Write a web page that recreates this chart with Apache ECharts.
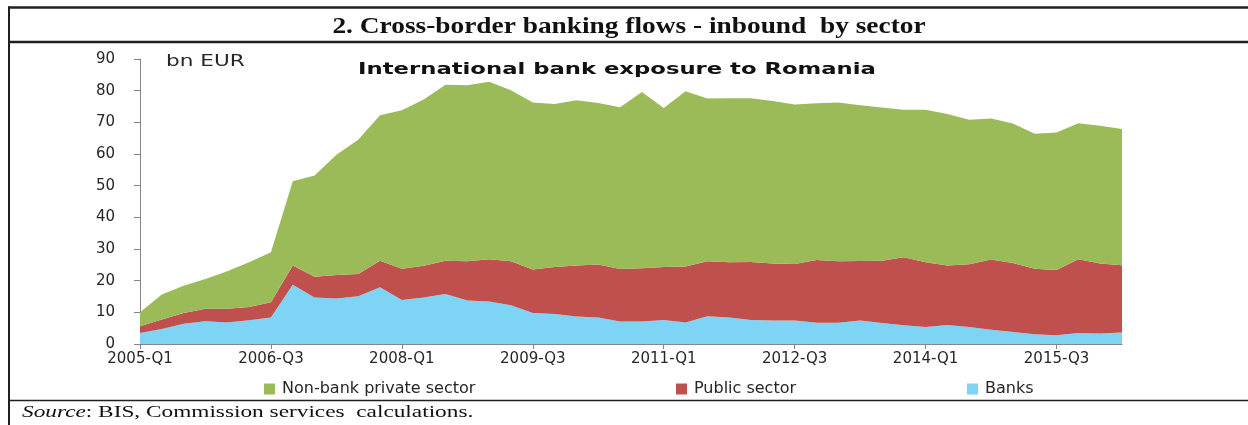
<!DOCTYPE html>
<html lang="en">
<head>
    <meta charset="UTF-8" />
    <title>Cross-border banking flows - inbound by sector</title>
    <script src="https://cdn.jsdelivr.net/npm/echarts@6/dist/echarts.min.js"></script>
    <style>
        html, body { margin: 0; padding: 0; background: #fff; }
        #chart { width: 1248px; height: 425px; }
    </style>
</head>
<body>
    <div id="chart"></div>
    <script>
        // quarters on the x axis
        var quarters = [
            "2005-Q1", "2005-Q2", "2005-Q3", "2005-Q4",
            "2006-Q1", "2006-Q2", "2006-Q3", "2006-Q4",
            "2007-Q1", "2007-Q2", "2007-Q3", "2007-Q4",
            "2008-Q1", "2008-Q2", "2008-Q3", "2008-Q4",
            "2009-Q1", "2009-Q2", "2009-Q3", "2009-Q4",
            "2010-Q1", "2010-Q2", "2010-Q3", "2010-Q4",
            "2011-Q1", "2011-Q2", "2011-Q3", "2011-Q4",
            "2012-Q1", "2012-Q2", "2012-Q3", "2012-Q4",
            "2013-Q1", "2013-Q2", "2013-Q3", "2013-Q4",
            "2014-Q1", "2014-Q2", "2014-Q3", "2014-Q4",
            "2015-Q1", "2015-Q2", "2015-Q3", "2015-Q4",
            "2016-Q1", "2016-Q2"
        ];

        // bn EUR (stacked: banks at the bottom)
        var banks = [
            3.5, 4.7, 6.4, 7.2, 6.8, 7.5, 8.4, 18.7, 14.7, 14.4, 15.1, 17.9,
            13.9, 14.7, 15.8, 13.7, 13.4, 12.2, 9.8, 9.5, 8.7, 8.4, 7.1, 7.1,
            7.6, 6.8, 8.8, 8.4, 7.6, 7.4, 7.4, 6.7, 6.7, 7.4, 6.6, 5.9,
            5.4, 6.0, 5.4, 4.5, 3.8, 3.1, 2.8, 3.5, 3.3, 3.6
        ];
        var publicSector = [
            2.1, 3.0, 3.4, 3.9, 4.3, 4.2, 4.8, 6.1, 6.5, 7.4, 7.0, 8.4,
            9.9, 10.0, 10.5, 12.4, 13.4, 13.9, 13.7, 14.8, 16.1, 16.7, 16.6, 16.8,
            16.7, 17.7, 17.3, 17.4, 18.3, 18.0, 17.9, 19.8, 19.4, 18.8, 19.7, 21.5,
            20.4, 18.8, 19.8, 22.2, 21.8, 20.7, 20.6, 23.3, 22.1, 21.3
        ];
        var nonBank = [
            4.4, 7.9, 8.6, 9.4, 11.9, 14.1, 15.8, 26.6, 32.0, 38.0, 42.4, 45.9,
            50.0, 52.5, 55.6, 55.6, 56.0, 54.0, 52.8, 51.5, 52.2, 51.0, 51.1, 55.7,
            50.2, 55.3, 51.4, 51.8, 51.7, 51.3, 50.3, 49.5, 50.2, 49.2, 48.4, 46.6,
            48.2, 47.8, 45.6, 44.5, 44.0, 42.6, 43.4, 42.9, 43.5, 43.0
        ];

        var chart = echarts.init(document.getElementById("chart"));

        var axisFont = "DejaVu Sans";
        var legendText = { fontFamily: axisFont, fontSize: 16, color: "#262626", padding: [0, 0, 0, 2] };

        function areaSeries(name, data, color) {
            return {
                name: name,
                type: "line",
                stack: "total",
                data: data,
                symbol: "none",
                lineStyle: { width: 0 },
                areaStyle: { color: color, opacity: 1 },
                itemStyle: { color: color },
                emphasis: { disabled: true },
                animation: false
            };
        }

        var option = {
            animation: false,
            grid: { left: 140, right: 126, top: 59, bottom: 81 },
            legend: [
                { data: ["Non-bank private sector"], left: 259, top: 376, itemWidth: 11, itemHeight: 11, icon: "rect", textStyle: legendText },
                { data: ["Public sector"], left: 671, top: 376, itemWidth: 11, itemHeight: 11, icon: "rect", textStyle: legendText },
                { data: ["Banks"], left: 962, top: 376, itemWidth: 11, itemHeight: 11, icon: "rect", textStyle: legendText }
            ],
            xAxis: {
                type: "category",
                data: quarters,
                boundaryGap: false,
                axisLine: { lineStyle: { color: "#868686", width: 1 } },
                axisTick: { show: true, interval: 5, length: 5, lineStyle: { color: "#868686" } },
                axisLabel: { interval: 5, margin: 8, fontFamily: axisFont, fontSize: 15, color: "#262626" },
                splitLine: { show: false }
            },
            yAxis: {
                type: "value",
                min: 0,
                max: 90,
                interval: 10,
                axisLine: { show: true, lineStyle: { color: "#868686", width: 1 } },
                axisTick: { show: true, length: 6, lineStyle: { color: "#868686" } },
                axisLabel: { margin: 25, fontFamily: axisFont, fontSize: 15, color: "#262626" },
                splitLine: { show: false }
            },
            series: [
                areaSeries("Banks", banks, "#7dd4f5"),
                areaSeries("Public sector", publicSector, "#c0504d"),
                areaSeries("Non-bank private sector", nonBank, "#9bbb59")
            ],
            graphic: [
                // frame
                { type: "line", shape: { x1: 8, y1: 7.5, x2: 1248, y2: 7.5 }, style: { stroke: "#231f20", lineWidth: 2.5 }, silent: true },
                { type: "line", shape: { x1: 8, y1: 42, x2: 1248, y2: 42 }, style: { stroke: "#231f20", lineWidth: 2.5 }, silent: true },
                { type: "line", shape: { x1: 9, y1: 6.5, x2: 9, y2: 425 }, style: { stroke: "#231f20", lineWidth: 2 }, silent: true },
                { type: "line", shape: { x1: 9, y1: 400.5, x2: 1248, y2: 400.5 }, style: { stroke: "#231f20", lineWidth: 1.5 }, silent: true },
                // header
                {
                    type: "text", x: 629, y: 27, scaleX: 1.14, silent: true,
                    style: {
                        text: "2. Cross-border banking flows - inbound  by sector",
                        fontFamily: "Liberation Serif", fontWeight: "bold", fontSize: 24,
                        fill: "#111", textAlign: "center", textVerticalAlign: "middle"
                    }
                },
                // chart title
                {
                    type: "text", x: 617, y: 70, scaleX: 1.42, silent: true,
                    style: {
                        text: "International bank exposure to Romania",
                        fontFamily: axisFont, fontWeight: "bold", fontSize: 16,
                        fill: "#111", textAlign: "center", textVerticalAlign: "middle"
                    }
                },
                // unit
                {
                    type: "text", x: 166, y: 62, scaleX: 1.44, silent: true,
                    style: {
                        text: "bn EUR", fontFamily: axisFont, fontSize: 15,
                        fill: "#262626", textAlign: "left", textVerticalAlign: "middle"
                    }
                },
                // source
                {
                    type: "text", x: 22, y: 413, scaleX: 1.37, silent: true,
                    style: {
                        text: "{i|Source}: BIS, Commission services  calculations.",
                        fontFamily: "Liberation Serif", fontSize: 17, fill: "#111",
                        textAlign: "left", textVerticalAlign: "middle",
                        rich: { i: { fontFamily: "Liberation Serif", fontStyle: "italic", fontSize: 17, fill: "#111" } }
                    }
                }
            ]
        };

        chart.setOption(option);
    </script>
</body>
</html>
